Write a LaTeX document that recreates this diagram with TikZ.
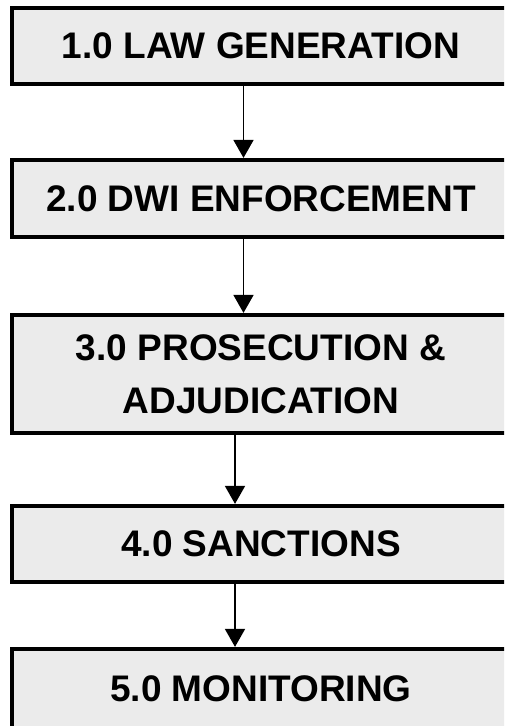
\documentclass[tikz,border=0pt]{standalone}
\usepackage{fontspec}
\setmainfont{Liberation Sans}
\usetikzlibrary{arrows.meta}
\begin{document}
\begin{tikzpicture}[
  x=1pt,
  y=-1pt,
  font=\bfseries\fontsize{37}{53}\selectfont,
  stagebox/.style={draw=black, line width=4.2pt, fill=black!8,
    minimum width=498pt, inner sep=0pt, align=center},
  flow/.style={line width=1.6pt, -{Triangle[length=18pt,width=20pt]}}
]
\useasboundingbox (0,0) rectangle (504,726);
\clip (0,0) rectangle (504,726);

% stages
\node[stagebox, minimum height=76pt] (law) at (261,46) {1.0 LAW GENERATION};
\node[stagebox, minimum height=77pt] (dwi) at (261,198.5) {2.0 DWI ENFORCEMENT};
\node[stagebox, minimum height=118pt] (pros) at (261,374) {3.0 PROSECUTION \&\\ADJUDICATION};
\node[stagebox, minimum height=76pt] (sanc) at (261,544) {4.0 SANCTIONS};
\node[stagebox, minimum height=79pt] (mon) at (261,688.5) {5.0 MONITORING};

% arrows between stages
\draw[flow] ([xshift=-17.5pt]law.south) -- ([xshift=-17.5pt]dwi.north);
\draw[flow] ([xshift=-17.5pt]dwi.south) -- ([xshift=-17.5pt]pros.north);
\draw[flow] ([xshift=-26pt]pros.south) -- ([xshift=-26pt]sanc.north);
\draw[flow] ([xshift=-26pt]sanc.south) -- ([xshift=-26pt]mon.north);
\end{tikzpicture}
\end{document}
